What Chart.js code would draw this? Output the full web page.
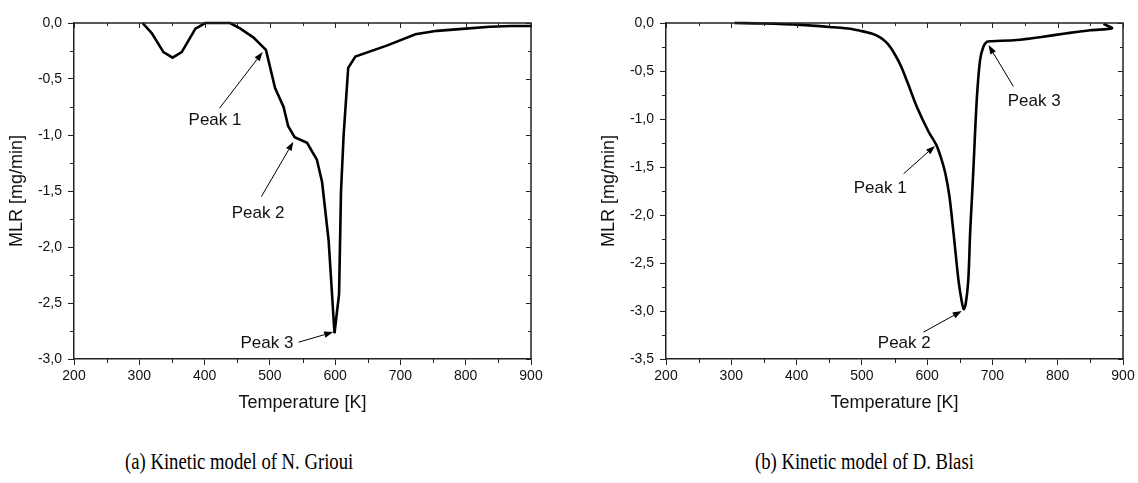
<!DOCTYPE html>
<html>
<head>
<meta charset="utf-8">
<title>MLR curves</title>
<script src="https://cdn.jsdelivr.net/npm/chart.js@4.4.1/dist/chart.umd.min.js"></script>
<style>
  html, body { margin: 0; padding: 0; background: #fff; }
  #page { position: relative; width: 1138px; height: 483px; overflow: hidden; }
  .panel { position: absolute; top: 0; }
  .caption {
    position: absolute;
    font-family: "Liberation Serif", "Times New Roman", serif;
    font-size: 22.5px;
    line-height: 22px;
    color: #000;
    white-space: nowrap;
    transform: scaleX(0.83);
    transform-origin: left top;
  }
</style>
</head>
<body>
<div id="page">
  <div class="panel" style="left:0"><canvas id="chartA" width="569" height="420"></canvas></div>
  <div class="panel" style="left:592px"><canvas id="chartB" width="546" height="420"></canvas></div>
  <div class="caption" style="left:125px; top:451px">(a) Kinetic model of N. Grioui</div>
  <div class="caption" style="left:755px; top:451px">(b) Kinetic model of D. Blasi</div>
</div>
<script>
'use strict';

// Grioui model: temperature [K] vs mass loss rate [mg/min]
const griouiTemp = [305, 319, 337, 351, 365, 386, 401, 420, 439, 455, 475, 494, 508, 521, 528, 538,
    557, 572, 580, 590, 599, 606, 609, 613, 620, 631, 680, 723, 756, 800, 837, 870, 900];
const griouiMlr = [0, -0.09, -0.26, -0.31, -0.26, -0.05, 0, 0, 0, -0.05, -0.13, -0.24, -0.58, -0.75, -0.92, -1.02,
    -1.07, -1.22, -1.42, -1.94, -2.77, -2.42, -1.5, -1.0, -0.4, -0.3, -0.2, -0.10, -0.07, -0.05, -0.033, -0.027, -0.027];

// Blasi model
const blasiTemp = [305, 350, 406, 457, 482, 497, 515, 528, 540, 550, 560, 570, 584, 602, 614, 622, 628, 634,
    640, 648, 653, 656, 659, 663, 666, 668.5, 671, 676, 681, 686, 692, 700, 737, 775, 814, 850, 883, 870];
const blasiMlr = [0, -0.005, -0.02, -0.045, -0.06, -0.08, -0.11, -0.15, -0.22, -0.32, -0.45, -0.62, -0.87, -1.13, -1.27, -1.42, -1.57, -1.8,
    -2.16, -2.68, -2.9, -2.98, -2.93, -2.68, -2.16, -1.84, -1.5, -0.8, -0.39, -0.25, -0.195, -0.19, -0.177, -0.145, -0.107, -0.075, -0.055, -0.01];

// axis ranges
const tempRange = [200, 900];
const griouiMlrRange = [-3.0, 0];
const blasiMlrRange = [-3.5, 0];

// peak callouts in data units: label centre, arrow tail, arrow tip
const griouiPeaks = [
    { text: 'Peak 1', at: [416, -0.87], from: [423, -0.76], to: [489, -0.26] },
    { text: 'Peak 2', at: [482, -1.70], from: [487, -1.55], to: [536, -1.06] },
    { text: 'Peak 3', at: [495.6, -2.86], from: [544, -2.85], to: [597, -2.76] }
];
const blasiPeaks = [
    { text: 'Peak 1', at: [528, -1.72], from: [564, -1.57], to: [612, -1.28] },
    { text: 'Peak 2', at: [565, -3.34], from: [594.5, -3.22], to: [653, -3.0] },
    { text: 'Peak 3', at: [764, -0.82], from: [732, -0.66], to: [694, -0.23] }
];

const FONT = '"Liberation Sans", Arial, sans-serif';
Chart.defaults.font.family = FONT;
Chart.defaults.color = '#111';

function drawArrow(ctx, x0, y0, x1, y1) {
    const ang = Math.atan2(y1 - y0, x1 - x0);
    const len = 9, half = 3.2;
    const bx = x1 - len * Math.cos(ang), by = y1 - len * Math.sin(ang);
    ctx.beginPath();
    ctx.moveTo(x0, y0);
    ctx.lineTo(bx, by);
    ctx.stroke();
    ctx.beginPath();
    ctx.moveTo(x1, y1);
    ctx.lineTo(bx + half * Math.sin(ang), by - half * Math.cos(ang));
    ctx.lineTo(bx - half * Math.sin(ang), by + half * Math.cos(ang));
    ctx.closePath();
    ctx.fill();
}

// box frame, minor ticks, inward ticks on top/right, and the peak callouts
const frameAndCallouts = {
    id: 'frameAndCallouts',
    afterDraw(chart, args, opts) {
        const { ctx, chartArea: a } = chart;
        const x = chart.scales.x, y = chart.scales.y;
        ctx.save();
        ctx.strokeStyle = '#222';
        ctx.lineWidth = 1.5;
        ctx.beginPath();
        ctx.moveTo(a.left, a.top);
        ctx.lineTo(a.right, a.top);
        ctx.lineTo(a.right, a.bottom);
        ctx.stroke();

        ctx.lineWidth = 1;
        ctx.beginPath();
        for (let t = x.min; t <= x.max + 1e-6; t += 50) {
            const px = Math.round(x.getPixelForValue(t)) + 0.5;
            const major = t % 100 === 0;
            ctx.moveTo(px, a.top);
            ctx.lineTo(px, a.top + (major ? 5 : 3));
            if (!major) {
                ctx.moveTo(px, a.bottom);
                ctx.lineTo(px, a.bottom + 4);
            }
        }
        for (let i = 0; y.max - i * 0.25 >= y.min - 1e-6; i++) {
            const v = y.max - i * 0.25;
            const py = Math.round(y.getPixelForValue(v)) + 0.5;
            const major = i % 2 === 0;
            ctx.moveTo(a.right, py);
            ctx.lineTo(a.right - (major ? 5 : 3), py);
            if (!major) {
                ctx.moveTo(a.left, py);
                ctx.lineTo(a.left - 4, py);
            }
        }
        ctx.stroke();

        ctx.strokeStyle = '#000';
        ctx.fillStyle = '#000';
        ctx.lineWidth = 1;
        ctx.font = '17px ' + FONT;
        ctx.textAlign = 'center';
        ctx.textBaseline = 'middle';
        opts.peaks.forEach(p => {
            drawArrow(ctx,
                x.getPixelForValue(p.from[0]), y.getPixelForValue(p.from[1]),
                x.getPixelForValue(p.to[0]), y.getPixelForValue(p.to[1]));
            ctx.fillStyle = '#111';
            ctx.fillText(p.text, x.getPixelForValue(p.at[0]), y.getPixelForValue(p.at[1]));
            ctx.fillStyle = '#000';
        });
        ctx.restore();
    }
};

function makeChart(id, temps, mlr, yRange, peaks, rightPad, tension) {
    const points = temps.map((t, i) => ({ x: t, y: mlr[i] }));
    return new Chart(document.getElementById(id), {
        type: 'scatter',
        data: {
            datasets: [{
                data: points,
                showLine: true,
                pointRadius: 0,
                borderColor: '#000',
                borderWidth: 2.6,
                tension: tension,
                clip: false
            }]
        },
        options: {
            responsive: false,
            animation: false,
            layout: { padding: { top: 23, right: rightPad, left: 0, bottom: 0 } },
            plugins: {
                legend: { display: false },
                tooltip: { enabled: false },
                frameAndCallouts: { peaks: peaks }
            },
            scales: {
                x: {
                    type: 'linear',
                    min: tempRange[0],
                    max: tempRange[1],
                    afterFit: s => { s.height = 61; },
                    ticks: { stepSize: 100, padding: 3, font: { size: 14 }, color: '#111', maxRotation: 0 },
                    grid: { drawOnChartArea: false, tickLength: 6, color: '#222', lineWidth: 1 },
                    border: { color: '#222', width: 1.5 },
                    title: {
                        display: true, text: 'Temperature [K]', color: '#111',
                        font: { size: 18 }, padding: { top: 0, bottom: 6 }
                    }
                },
                y: {
                    min: yRange[0],
                    max: yRange[1],
                    afterFit: s => { s.width = 74; },
                    ticks: {
                        stepSize: 0.5, padding: 6, font: { size: 14 }, color: '#111',
                        callback: v => (Math.abs(v) < 1e-9 ? 0 : v).toFixed(1).replace('.', ',')
                    },
                    grid: { drawOnChartArea: false, tickLength: 6, color: '#222', lineWidth: 1 },
                    border: { color: '#222', width: 1.5 },
                    title: {
                        display: true, text: 'MLR [mg/min]', color: '#111',
                        font: { size: 18 }, padding: { top: 6, bottom: 0 }
                    }
                }
            }
        },
        plugins: [frameAndCallouts]
    });
}

makeChart('chartA', griouiTemp, griouiMlr, griouiMlrRange, griouiPeaks, 38, 0);
makeChart('chartB', blasiTemp, blasiMlr, blasiMlrRange, blasiPeaks, 15, 0.3);
</script>
</body>
</html>
